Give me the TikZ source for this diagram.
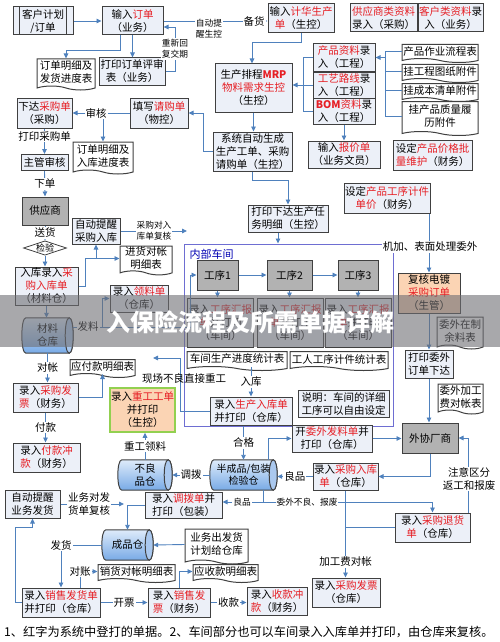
\documentclass[tikz,border=0pt]{standalone}
\usepackage{fontspec}
\newfontfamily\cjk{Noto Sans CJK SC}
\usetikzlibrary{arrows.meta,shapes.geometric,shapes.symbols,backgrounds}
\definecolor{boxf}{RGB}{236,240,248}
\definecolor{boxd}{RGB}{64,64,64}
\definecolor{linc}{RGB}{79,129,189}
\definecolor{redt}{RGB}{230,30,36}
\definecolor{grayf}{RGB}{178,178,178}
\definecolor{orgf}{RGB}{251,212,180}
\definecolor{grnd}{RGB}{146,208,80}
\definecolor{frmc}{RGB}{110,110,210}
\definecolor{cyltop}{RGB}{222,235,250}
\definecolor{cylbot}{RGB}{120,170,230}
\definecolor{cylend}{RGB}{170,200,238}
\definecolor{bnrf}{RGB}{110,110,115}
\newcommand{\redtxt}[1]{\textcolor{redt}{#1}}
% cylinder outline round a text node
\newcommand{\cylpath}[1]{%
  \begin{scope}[on background layer]
  \draw[draw=boxd, line width=1pt, top color=cyltop, bottom color=cylbot] (#1.north west) -- (#1.north east) .. controls ([xshift=5.3]#1.north east) and ([xshift=5.3]#1.south east) .. (#1.south east) -- (#1.south west) .. controls ([xshift=-5.3]#1.south west) and ([xshift=-5.3]#1.north west) .. (#1.north west) -- cycle;
  \draw[draw=boxd, line width=1pt, fill=cylend] (#1.north east) .. controls ([xshift=-5.3]#1.north east) and ([xshift=-5.3]#1.south east) .. (#1.south east) .. controls ([xshift=5.3]#1.south east) and ([xshift=5.3]#1.north east) .. (#1.north east) -- cycle;
  \end{scope}}
\tikzset{
  box/.style={draw=boxd, line width=1pt, fill=boxf, align=center, inner sep=1pt, font=\cjk\fontsize{10.5}{13}\selectfont},
  grybox/.style={box, fill=grayf},
  doc/.style={box, fill=white, shape=tape, tape bend top=none, tape bend bottom=out and in, tape bend height=4pt},
  cylt/.style={align=center, inner sep=0pt, font=\cjk\fontsize{10.5}{13}\selectfont},
  lbl/.style={fill=white, inner sep=1pt, align=center, font=\cjk\fontsize{10.5}{13}\selectfont},
  slbl/.style={lbl, font=\cjk\fontsize{8.7}{11}\selectfont},
  arr/.style={draw=linc, line width=0.9pt, -{Triangle[length=5pt,width=4.5pt]}},
  ln/.style={draw=linc, line width=0.9pt},
}
\begin{document}
\begin{tikzpicture}[x=1pt,y=1pt,yscale=-1,xscale=1]
\useasboundingbox (0,0) rectangle (500,642);

%Boxes
\node[box, minimum width=60, minimum height=28] (kh) at (43,21) {客户计划\\/订单};
\draw[draw=boxd, line width=1pt] ([xshift=7]kh.north west) -- ([xshift=7]kh.south west) ([xshift=-7]kh.north east) -- ([xshift=-7]kh.south east);
\node[box, minimum width=61, minimum height=28] (dd) at (132.5,21) {输入\redtxt{订单}\\（业务）};
\node[doc, minimum width=58, minimum height=31] (mx1) at (66,72.5) {订单明细及\\发货进度表};
\node[box, minimum width=66, minimum height=27] (ps) at (132,71.5) {打印订单评审\\表（业务）};
\node[box, minimum width=66, minimum height=29] (jh) at (301,18.5) {输入\redtxt{计华生产}\\\redtxt{单}（生控）};
\node[box, minimum width=67, minimum height=28] (gys) at (383.5,18) {\redtxt{供应商类资料}\\录入（采购）};
\node[box, minimum width=65, minimum height=28] (khl) at (450.5,18) {\redtxt{客户类资料}录\\入（业务）};
\node[box, minimum width=77, minimum height=48] (pc) at (253.5,88) {生产排程\redtxt{\textbf{MRP}}\\\redtxt{物料需求生控}\\（生控）};
\node[box, minimum width=62, minimum height=27] (cp) at (344,57.5) {\redtxt{产品资料}录\\入（工程）};
\node[box, minimum width=62, minimum height=26] (gy) at (344,85) {\redtxt{工艺路线}录\\入（工程）};
\node[box, minimum width=62, minimum height=26] (bom) at (344,111.5) {\redtxt{\textbf{BOM}资料}录\\入（工程）};
\node[doc, minimum width=76, minimum height=18] (zy) at (440,51.5) {产品作业流程表};
\node[doc, minimum width=76, minimum height=18] (gc) at (440,71.5) {挂工程图纸附件};
\node[doc, minimum width=76, minimum height=18] (cb) at (440,90.5) {挂成本清单附件};
\node[doc, minimum width=76, minimum height=34] (zl) at (440,116.5) {挂产品质量履\\历附件};
\node[box, minimum width=72, minimum height=27] (bj) at (344,154.5) {输入\redtxt{报价单}\\（业务文员）};
\node[box, minimum width=79, minimum height=30] (jg) at (432.5,155) {设定\redtxt{产品价格批}\\\redtxt{量维护}（财务）};
\node[box, minimum width=86, minimum height=30] (gx) at (387,198) {设定\redtxt{产品工序计件}\\\redtxt{单价}（财务）};
\node[box, minimum width=79, minimum height=39] (xt) at (252.5,151.5) {系统自动生成\\生产工单、采购\\请购单（生控）};
\node[box, minimum width=58, minimum height=30] (qg) at (159,113) {填写\redtxt{请购单}\\（物控）};
\node[box, minimum width=55, minimum height=30] (cg) at (44.5,113) {下达\redtxt{采购单}\\（采购）};
\node[doc, minimum width=60, minimum height=32] (mx2) at (103,156) {订单明细及\\入库进度表};
\node[box, minimum width=47, minimum height=16] (zg) at (44.5,162.5) {主管审核};
\node[grybox, minimum width=46, minimum height=28] (gysh) at (45,211) {供应商};
\node[draw=boxd, line width=0.8pt, fill=white, diamond, aspect=3, inner sep=0pt, font=\cjk\fontsize{9}{11}\selectfont] (jy) at (45,248) {检验};
\node[box, minimum width=63, minimum height=38] (rk) at (46.5,286) {入库录入\redtxt{采}\\\redtxt{购入库单}\\（材料仓）};
\node[box, minimum width=48, minimum height=26] (tx1) at (96,231) {自动提醒\\采购入库};
\node[doc, minimum width=52, minimum height=28] (jhd) at (146,258.5) {进货对帐\\明细表};
\node[box, minimum width=80, minimum height=27] (xd) at (288,218.5) {打印下达生产任\\务明细（生控）};

%Inner workshop
\node[draw=frmc, line width=1pt, minimum width=209, minimum height=182, inner sep=0pt] (fr) at (288.5,335) {};
\node[anchor=west, text=blue!70!black, font=\cjk\fontsize{11}{13}\selectfont] (nbcj) at (186,254) {内部车间};
\node[grybox, minimum width=41, minimum height=30] (gx1) at (217.5,275) {工序1};
\node[grybox, minimum width=45, minimum height=30] (gx2) at (289.5,275) {工序2};
\node[grybox, minimum width=40, minimum height=30] (gx3) at (358,275) {工序3};
\node[box, minimum width=66, minimum height=49] (hb1) at (220.5,322.5) {录入\redtxt{工序汇报}\\\redtxt{单}并打印\\（车间）};
\node[box, minimum width=66, minimum height=49] (hb2) at (290,322.5) {录入\redtxt{工序汇报}\\\redtxt{单}并打印\\（车间）};
\node[box, minimum width=66, minimum height=49] (hb3) at (358,322.5) {录入\redtxt{工序汇报}\\\redtxt{单}并打印\\（车间）};
\node[doc, minimum width=100, minimum height=19] (jdtj) at (237,359) {车间生产进度统计表};
\node[doc, minimum width=98, minimum height=19] (grtj) at (339,359) {工人工序计件统计表};
\node[box, minimum width=82, minimum height=28] (rksc) at (251,411) {录入\redtxt{生产入库单}\\并打印（仓库）};
\node[box, minimum width=91, minimum height=27] (sm) at (343.5,404) {说明：车间的详细\\工序可以自由设定};

%Left column
\node[cylt, minimum width=43, minimum height=35] (cl) at (47.5,335.5) {材料\\仓库};
\cylpath{cl}
\node[box, minimum width=58, minimum height=27] (ll) at (139,298.5) {录入\redtxt{领料单}\\（仓库）};
\node[box, minimum width=65, minimum height=29] (cgfp) at (45.5,397.5) {录入\redtxt{采购发}\\\redtxt{票}（财务）};
\node[doc, minimum width=65, minimum height=18] (yf) at (102.5,366.5) {应付款明细表};
\node[box, minimum width=67, minimum height=29] (fkck) at (46.5,457.5) {录入\redtxt{付款冲}\\\redtxt{款}（财务）};
\node[box, fill=orgf, draw=grnd, line width=1.5pt, minimum width=65, minimum height=44] (cgd) at (142.5,410) {录入\redtxt{重工工单}\\并打印\\（生控）};
\node[cylt, minimum width=46, minimum height=30] (blp) at (145,475) {不良\\品仓};
\cylpath{blp}
\node[cylt, minimum width=59, minimum height=30, font=\cjk\fontsize{10}{12}\selectfont] (bcp) at (243.5,475) {半成品/包装\\检验仓};
\cylpath{bcp}
\node[box, minimum width=77, minimum height=26] (dbd) at (183.5,505) {录入\redtxt{调拨单}并\\打印（包装）};
\node[box, minimum width=55, minimum height=28] (tx2) at (32.5,504) {自动提醒\\业务发货};
\node[cylt, minimum width=43, minimum height=30] (cpc) at (127.5,545) {成品仓};
\cylpath{cpc}
\node[doc, minimum width=63, minimum height=35] (fhjh) at (216.5,544.5) {业务出发货\\计划给仓库};
\node[doc, minimum width=77, minimum height=18] (xhdz) at (136.5,571.5) {销货对帐明细表};
\node[doc, minimum width=65, minimum height=18] (ys) at (225.5,571.5) {应收款明细表};
\node[box, minimum width=78, minimum height=29] (xsfh) at (61,602.5) {录入\redtxt{销售发货单}\\并打印（仓库）};
\node[box, minimum width=62, minimum height=29] (xsfp) at (179,602.5) {录入\redtxt{销售发}\\\redtxt{票}（财务）};
\node[box, minimum width=60, minimum height=28] (skck) at (277,601) {录入\redtxt{收款冲}\\\redtxt{款}（财务）};

%Right column
\node[box, fill=orgf, minimum width=62, minimum height=40] (fh) at (429,293) {复核电镀\\\redtxt{采购订单}\\（生管）};
\node[doc, minimum width=46, minimum height=32] (ywyl) at (460,331) {委外在制\\余料表};
\node[box, minimum width=48, minimum height=28] (wwxd) at (429,364) {打印委外\\订单下达};
\node[doc, minimum width=45, minimum height=30] (wwjg) at (460.5,397) {委外加工\\费对帐表};
\node[grybox, minimum width=56, minimum height=30] (wx) at (430,438) {外协厂商};
\node[box, minimum width=80, minimum height=27] (fl) at (332,438.5) {开\redtxt{委外发料单}并\\打印（仓库）};
\node[box, minimum width=65, minimum height=27] (cgrk) at (345.5,476.5) {录入\redtxt{采购入库}\\\redtxt{单}（仓库）};
\node[box, minimum width=75, minimum height=29] (thd) at (432.5,527.5) {录入\redtxt{采购退货}\\\redtxt{单}（仓库）};
\node[box, minimum width=68, minimum height=29] (cgfp2) at (346,592.5) {录入\redtxt{采购发票}\\（仓库）};

%Straight Lines
\draw[arr] (kh) -- (dd);
\draw[arr] ([xshift=-12]dd.south) -- ++(0,15) -| (mx1.north);
\draw[arr] (dd.south) -- (dd.south |- ps.north);
\coordinate (hf) at (175,27);
\draw[arr] (ps.east) -| (hf) -- (hf -| dd.east);
\node[slbl] (hfl) at (175,49) {重新回\\复交期};
\draw[arr] (dd.east) -- (dd.east -| jh.west);
\node[slbl] (txs) at (209,29) {自动提\\醒生控};
\node[lbl] (bh) at (254,21) {备货};
\coordinate (b1) at (252,42);
\draw[arr] (jh.south) |- (b1) -- (b1 |- pc.north);
\coordinate (b2) at (303,0);
\draw[ln] (cp.west) -| (b2 |- bom.west) -- (bom.west);
\draw[arr] (gy.west) -- (gy.west -| pc.east);
\coordinate (b3) at (385,0);
\draw[ln] (zy.west) -| (b3 |- zl.west) -- (zl.west);
\draw[ln] (gc.west) -- (gc.west -| b3);
\draw[ln] (cb.west) -- (cb.west -| b3);
\draw[arr] (cp.east -| b3) -- (cp.east);
\draw[arr] (bom.south) -- (bj.north);
\draw[arr] (pc.south) -- (pc.south |- xt.north);
\draw[arr] (xt.south) -- ++(0,9) -| (xd.north);
\draw[arr] (xt.west) -- ++(-9,0) |- (qg.east);
\draw[arr] (qg.west) -- (cg.east);
\draw[arr] (mx2.north |- qg.west) -- (mx2.north);
\node[lbl] (shl) at (96,113) {审核};
\draw[arr] (cg.south) -- (zg.north) node[lbl, pos=0.32] (dyl) {打印采购单};
\draw[arr] (zg.south) -- (gysh.north) node[lbl, midway] (xdl) {下单};
\draw[arr] (gysh.south) -- (jy.north) node[lbl, midway] (shh) {送货};
\draw[arr] (jy.south) -- (jy.south |- rk.north);
\coordinate (b5) at (85,258.5);
\draw[ln] (rk.east) -| (b5);
\draw[arr] (b5) -| (tx1.south);
\draw[arr] (b5) -- (jhd.west);
\coordinate (e1) at (187,231);
\draw[arr] (tx1.east) -- (e1);
\node[slbl] (fhl) at (154,231) {采购对入\\库单复核};
\draw[arr] (rk.south) -- (rk.south |- cl.north);
\coordinate (cle) at ([xshift=4]cl.east);
\coordinate (b6) at (102,327);
\coordinate (b7) at (190,327);
\draw[ln] (b6 -| cle) -- (b6);
\draw[arr] (b6) |- (ll.west);
\draw[arr] (b6) -- (b7) |- (gx1.west);
\node[lbl] (fll) at (88,327) {发料};
\draw[arr] (gx1) -- (gx2);
\draw[arr] (gx2) -- (gx3);
\draw[arr] (gx1.south) -- (gx1.south |- hb1.north);
\draw[arr] (gx2.south) -- (gx2.south |- hb2.north);
\draw[arr] (gx3.south) -- (gx3.south |- hb3.north);
\draw[arr] ([xshift=-10]xd.south) -- ([xshift=-10]xd.south |- fr.north);
\draw[arr] (gx.south -| fh.north) -- (fh.north);
\node[lbl] (jjl) at (430,247) {机加、表面处理委外};
\draw[arr] (fh.south) -- (wwxd.north);
\draw[arr] (wwxd.south) -- (wwxd.south |- wx.north);
\draw[arr] (rksc.north |- jdtj.south) -- (rksc.north) node[lbl, midway] (rkl) {入库};
\coordinate (b8) at (180,358);
\coordinate (e2) at (153,358);
\draw[arr] (rksc.west) -| (b8) -- (e2);
\node[font=\cjk\fontsize{10.5}{13}\selectfont] (xcl) at (184,378) {现场不良直接重工};
\draw[arr] (bcp.north |- rksc.south) -- (bcp.north) node[lbl, midway] (hgl) {合格};
\draw[arr] ([xshift=-4]bcp.west) -- ([xshift=4]blp.east) node[lbl, midway] (dbl) {调拨};
\draw[arr] (blp.north) -- (blp.north |- cgd.south) node[lbl, midway] (cgll) {重工领料};
\coordinate (b9) at (268,438.5);
\draw[arr] (b9 |- bcp.north) -- (b9) -- (fl.west);
\draw[arr] (fl.east) -- (fl.east -| wx.west);
\draw[arr] (wx.south) |- (cgrk.east);
\coordinate (bcpe) at ([xshift=4]bcp.east);
\draw[arr] (cgrk.west) -- (cgrk.west -| bcpe) node[lbl, midway] (lpl) {良品};
\coordinate (b10) at (263,502);
\draw[ln] (b10 |- bcp.south) -- (b10);
\draw[arr] (b10) -- (b10 -| dbd.east);
\draw[arr] (b10) -| (thd.north);
\node[slbl] (lp2) at (242,502) {良品};
\node[slbl] (wwbl) at (307,502) {委外不良、报废};
\draw[arr] (cgrk.south) -- (cgrk.south |- cgfp2.north) node[lbl, pos=0.82] (jgf) {加工费对帐};
\draw[ln] (thd.west) -- (thd.west -| cgrk.south);
\coordinate (b11) at (468,0);
\draw[arr] (b11 |- thd.north) |- (wx.east);
\node[lbl] (zyl) at (469,479) {注意区分\\返工和报废};
\draw[arr] (cl.south) -- (cl.south |- cgfp.north) node[lbl, midway] (dzl) {对帐};
\draw[arr] (cgfp.east) -| (yf.south);
\draw[arr] (cgfp.south) -- (cgfp.south |- fkck.north) node[lbl, midway] (fkl) {付款};
\coordinate (e3) at (124,504);
\draw[arr] (tx2.east) -- (e3);
\node[lbl] (ywl) at (89,504) {业务对发\\货单复核};
\draw[arr] (dbd.west) -| (cpc.north);
\coordinate (b12) at (15,527);
\draw[arr] (xsfh.west) -| (b12) -| (tx2.south);
\draw[arr] ([xshift=-4]cpc.west) -| (xsfh.north);
\node[lbl] (fhl2) at (61,545) {发货};
\draw[arr] (fhjh.west) -- ([xshift=4]cpc.east);
\draw[arr] ([xshift=19]xsfh.north) |- (xhdz.west);
\node[lbl] (dzl2) at (80,571.5) {对账};
\draw[arr] (xsfh.east) -- (xsfh.east -| xsfp.west) node[lbl, midway] (kpl) {开票};
\draw[arr] (xsfp.north) |- (ys.west);
\draw[arr] (xsfp.east) -- (xsfp.east -| skck.west) node[lbl, midway] (skl) {收款};

% Text Node
\fill[bnrf, opacity=0.6] (0,295) rectangle (500,347);
\node[text=white, font=\cjk\bfseries\fontsize{24}{27}\selectfont] (bt) at (250,322) {入保险流程及所需单据详解};
\node[anchor=west, inner sep=0pt, font=\cjk\fontsize{12.2}{14}\selectfont] (zs) at (4,632) {1、红字为系统中登打的单据。2、车间部分也可以车间录入入库单并打印，由仓库来复核。};

\end{tikzpicture}
\end{document}
